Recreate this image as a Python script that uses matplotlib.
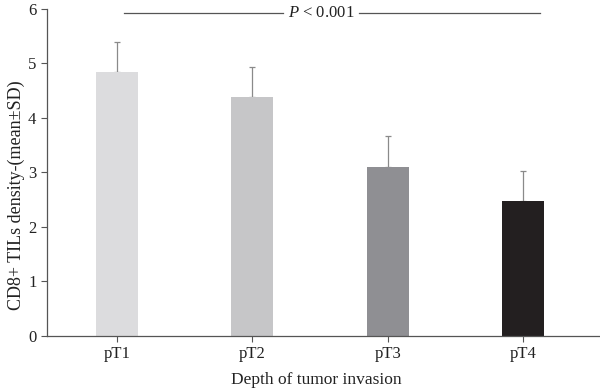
import numpy as np
import matplotlib.pyplot as plt

# === Data ===
categories = ["pT1", "pT2", "pT3", "pT4"]
means = [4.84, 4.38, 3.10, 2.47]
sds = [0.55, 0.56, 0.56, 0.56]
colors = ["#dcdcde", "#c6c6c8", "#8f8f93", "#231f20"]

plt.rcParams['font.family'] = ['Liberation Serif', 'DejaVu Serif']
plt.rcParams['mathtext.fontset'] = 'custom'
plt.rcParams['mathtext.it'] = 'Liberation Serif:italic'
plt.rcParams['mathtext.rm'] = 'Liberation Serif'

fig = plt.figure(figsize=(6, 3.9), dpi=100)
ax = fig.add_axes([0.078, 0.139, 0.922, 0.838])

x = np.arange(len(categories))
ax.bar(x, means, width=0.31, color=colors, zorder=2)
ax.errorbar(x, means, yerr=[np.zeros(len(sds)), sds], fmt='none',
            ecolor='#8a8a8a', elinewidth=0.9, capsize=2, capthick=0.9, zorder=1)

# significance line
ax.plot([0.05, 1.23], [5.93, 5.93], color='#555555', lw=0.9, clip_on=False)
ax.plot([1.79, 3.13], [5.93, 5.93], color='#555555', lw=0.9, clip_on=False)
ax.text(1.51, 5.93, r"$P$ < 0.001", ha='center', va='center', fontsize=12,
        color='#222222')

ax.set_xlim(-0.52, 3.57)
ax.set_ylim(0, 6)
ax.set_yticks(range(7))
ax.set_xticks(x)
ax.set_xticklabels(categories)
for s in ['top', 'right']:
    ax.spines[s].set_visible(False)
for s in ['left', 'bottom']:
    ax.spines[s].set_color('#555555')
    ax.spines[s].set_linewidth(0.9)
ax.tick_params(colors='#555555', labelcolor='#222222', labelsize=12, length=4, width=0.8)

ax.set_xlabel("Depth of tumor invasion", fontsize=12.5, color='#222222')
ax.set_ylabel("CD8+ TILs density-(mean±SD)", fontsize=13, color='#222222')
ax.xaxis.set_label_coords(0.487, -0.11)
ax.yaxis.set_label_coords(-0.04, 0.43)

plt.savefig("out.png", dpi=100)
